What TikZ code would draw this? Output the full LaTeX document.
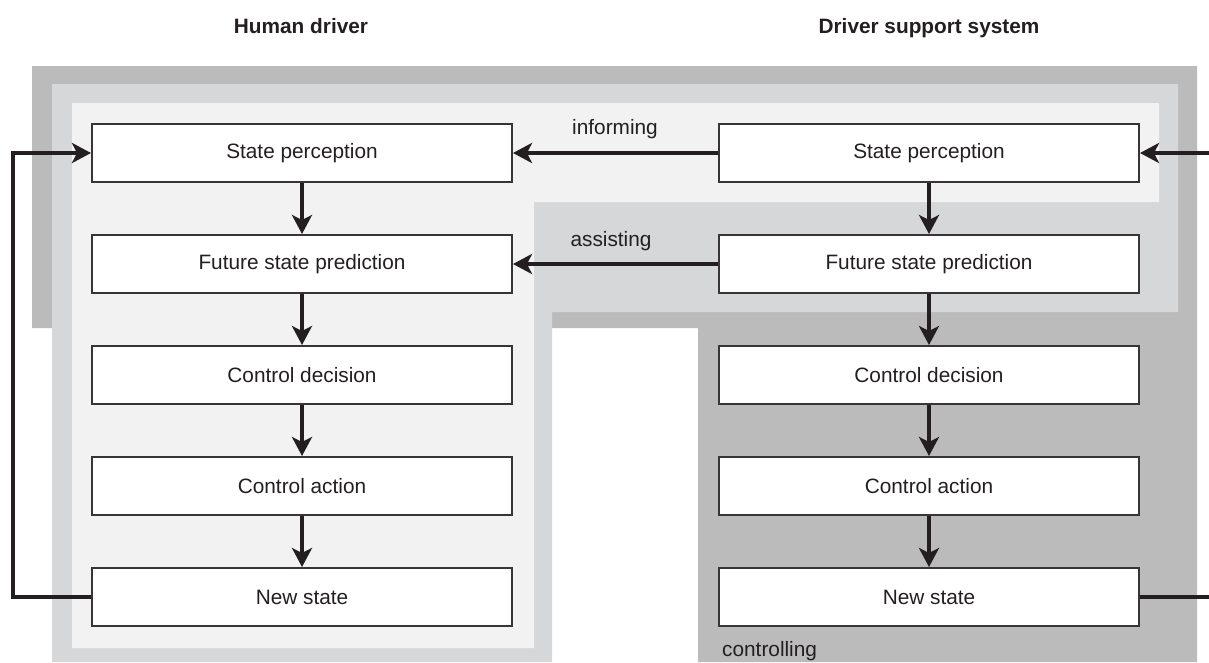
\documentclass[tikz,border=0pt]{standalone}
\usepackage{fontspec}
\setmainfont{Liberation Sans}
\usepackage{tikz}
\usetikzlibrary{positioning,arrows.meta}

\definecolor{outergray}{HTML}{BBBBBB}
\definecolor{midgray}{HTML}{D6D7D9}
\definecolor{innergray}{HTML}{F2F2F2}
\definecolor{ink}{HTML}{231F20}

\begin{document}
\begin{tikzpicture}[x=1pt, y=-1pt,
  stage/.style={draw=ink!90, line width=2pt, fill=white, minimum width=420pt, minimum height=58pt, inner sep=0pt, font=\fontsize{20.8}{25}\selectfont, text=ink},
  flow/.style={draw=ink, line width=3.5pt, -{Stealth[length=19pt,width=20pt,inset=5pt]}},
  link/.style={draw=ink, line width=3.5pt},
  tag/.style={font=\fontsize{20.8}{25}\selectfont, text=ink, inner sep=0pt}]
\useasboundingbox (0,0) rectangle (1209,662);

% nested support levels
\fill[outergray] (32,66) -- (1197,66) -- (1197,662) -- (698,662) -- (698,328) -- (32,328) -- cycle;
\fill[midgray] (52,84) -- (1178,84) -- (1178,312) -- (552,312) -- (552,662) -- (52,662) -- cycle;
\fill[innergray] (72,103) -- (1159,103) -- (1159,202) -- (534,202) -- (534,648) -- (72,648) -- cycle;

% column headers
\node[tag, font=\fontsize{20.8}{25}\selectfont\bfseries, anchor=base] (hhead) at (301,33) {Human driver};
\node[tag, font=\fontsize{20.8}{25}\selectfont\bfseries, anchor=base] (dhead) at (929,33) {Driver support system};

% human driver
\node[stage] (hsp) at (302,153) {State perception};
\node[stage] (hfp) at (302,264) {Future state prediction};
\node[stage] (hcd) at (302,375) {Control decision};
\node[stage] (hca) at (302,486) {Control action};
\node[stage] (hns) at (302,597) {New state};

% driver support system
\node[stage] (dsp) at (929,153) {State perception};
\node[stage] (dfp) at (929,264) {Future state prediction};
\node[stage] (dcd) at (929,375) {Control decision};
\node[stage] (dca) at (929,486) {Control action};
\node[stage] (dns) at (929,597) {New state};

\draw[flow] (hsp) -- (hfp);
\draw[flow] (hfp) -- (hcd);
\draw[flow] (hcd) -- (hca);
\draw[flow] (hca) -- (hns);

\draw[flow] (dsp) -- (dfp);
\draw[flow] (dfp) -- (dcd);
\draw[flow] (dcd) -- (dca);
\draw[flow] (dca) -- (dns);

% support levels
\draw[flow] (dsp) -- (hsp);
\draw[flow] (dfp) -- (hfp);
\node[tag] (inf) at (615,129) {informing};
\node[tag] (ass) at (611,241) {assisting};
\node[tag, anchor=base west] (ctl) at (722,656) {controlling};

% feedback loops
\coordinate (hlow) at (13,597);
\coordinate (hup) at (13,153);
\draw[flow] (hns.west) -- (hlow) -- (hup) -- (hsp.west);
\coordinate (din) at (1209,153);
\coordinate (dout) at (1209,597);
\draw[flow] (din) -- (dsp.east);
\draw[link] (dns.east) -- (dout);
\end{tikzpicture}
\end{document}
